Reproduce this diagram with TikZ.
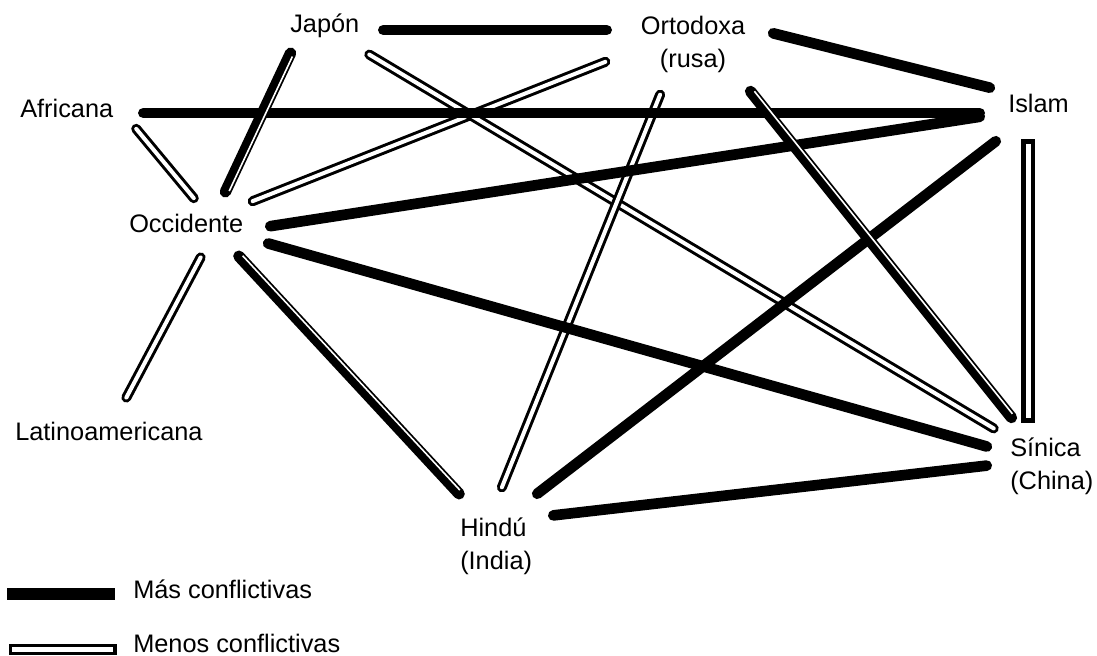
\documentclass[tikz,border=0pt]{standalone}
\usepackage{fontspec}
\setmainfont{Liberation Sans}
\usetikzlibrary{calc}
\begin{document}
\begin{tikzpicture}[x=0.75pt,y=-0.75pt,
  lbl/.style={inner sep=0pt, font=\fontsize{19}{24.75}\selectfont},
  strong/.style={line width=8pt, line cap=round, shorten <=4pt, shorten >=4pt},
  weak/.style={line width=2.25pt, double=white, double distance=3pt, line cap=round, shorten <=3.75pt, shorten >=3.75pt},
  weakrect/.style={line width=3.4pt, double=white, double distance=3.75pt, line cap=rect, shorten <=5.3pt, shorten >=5.3pt},
  mixedline/.style={line width=8.5pt, line cap=round, shorten <=4.25pt, shorten >=4.25pt},
  stripe/.style={white, line width=1.2pt, line cap=butt, shorten <=6pt, shorten >=6pt}]
\useasboundingbox (0,0) rectangle (1097,656);
\fill[white] (0,0) rectangle (1097,656);

% labels (for two-line labels the base anchor is the last line's baseline)
\node[lbl, anchor=base west] (jap) at (290,33) {Japón};
\node[lbl, anchor=base, align=center] (ort) at (693,68) {Ortodoxa\\(rusa)};
\node[lbl, anchor=base west] (isl) at (1008,113) {Islam};
\node[lbl, anchor=base west] (afr) at (20,118) {Africana};
\node[lbl, anchor=base west] (occ) at (129,233) {Occidente};
\node[lbl, anchor=base west] (lat) at (15,440) {Latinoamericana};
\node[lbl, anchor=base west, align=left] (sin) at (1010,489) {Sínica\\(China)};
\node[lbl, anchor=base west, align=left] (hin) at (460,569) {Hindú\\(India)};

% connector end points
\coordinate (jap-o) at (378,30);   \coordinate (ort-j) at (612,30);
\coordinate (ort-i) at (768,32);   \coordinate (isl-o) at (995,89);
\coordinate (afr-i) at (138,113);  \coordinate (isl-a) at (985,113);
\coordinate (occ-i) at (265,227);  \coordinate (isl-oc) at (985,116);
\coordinate (jap-oc) at (293,48);  \coordinate (occ-j) at (223,197);
\coordinate (afr-oc) at (133,125); \coordinate (occ-a) at (197,202);
\coordinate (occ-o) at (248,203);  \coordinate (ort-oc) at (610,60);
\coordinate (jap-s) at (365,52);   \coordinate (sin-j) at (998,431);
\coordinate (ort-h) at (662,90);   \coordinate (hin-o) at (500,492);
\coordinate (ort-s) at (747,87);   \coordinate (sin-o) at (1015,422);
\coordinate (isl-h) at (1000,138); \coordinate (hin-i) at (533,497);
\coordinate (isl-s) at (1028,139); \coordinate (sin-i) at (1028,423);
\coordinate (occ-s) at (263,242);  \coordinate (sin-oc) at (992,448);
\coordinate (occ-h) at (235,252);  \coordinate (hin-oc) at (463,498);
\coordinate (occ-l) at (203,253);  \coordinate (lat-o) at (124,402);
\coordinate (hin-s) at (548,516);  \coordinate (sin-h) at (992,465);

% less conflictive (double)
\draw[weak] (afr-oc) -- (occ-a);
\draw[weak] (occ-o) -- (ort-oc);
\draw[weak] (jap-s) -- (sin-j);
\draw[weak] (ort-h) -- (hin-o);
\draw[weak] (occ-l) -- (lat-o);
\draw[weakrect] (isl-s) -- (sin-i);

% more conflictive (solid)
\draw[strong] (jap-o) -- (ort-j);
\draw[strong] (ort-i) -- (isl-o);
\draw[strong] (afr-i) -- (isl-a);
\draw[strong] (occ-i) -- (isl-oc);
\draw[strong] (isl-h) -- (hin-i);
\draw[strong] (occ-s) -- (sin-oc);
\draw[strong] (hin-s) -- (sin-h);

% mixed (solid with a light stripe)
\draw[mixedline] (jap-oc) -- (occ-j);
\draw[stripe] ($(jap-oc)!2.3pt!90:(occ-j)$) -- ($(occ-j)!2.3pt!-90:(jap-oc)$);
\draw[mixedline] (occ-h) -- (hin-oc);
\draw[stripe] ($(occ-h)!2.3pt!90:(hin-oc)$) -- ($(hin-oc)!2.3pt!-90:(occ-h)$);
\draw[mixedline] (ort-s) -- (sin-o);
\draw[stripe] ($(ort-s)!2.3pt!90:(sin-o)$) -- ($(sin-o)!2.3pt!-90:(ort-s)$);

% legend
\node[fill=black, inner sep=0pt, minimum width=81pt, minimum height=9pt, anchor=north west] (legS) at (7,588) {};
\node[draw=black, line width=2.3pt, fill=white, inner sep=0pt, minimum width=78.7pt, minimum height=6pt, anchor=north west] (legW) at (8.5,643.5) {};
\node[lbl, anchor=base west] (lmas) at (133,598) {Más conflictivas};
\node[lbl, anchor=base west] (lmen) at (133,652) {Menos conflictivas};
\end{tikzpicture}
\end{document}
